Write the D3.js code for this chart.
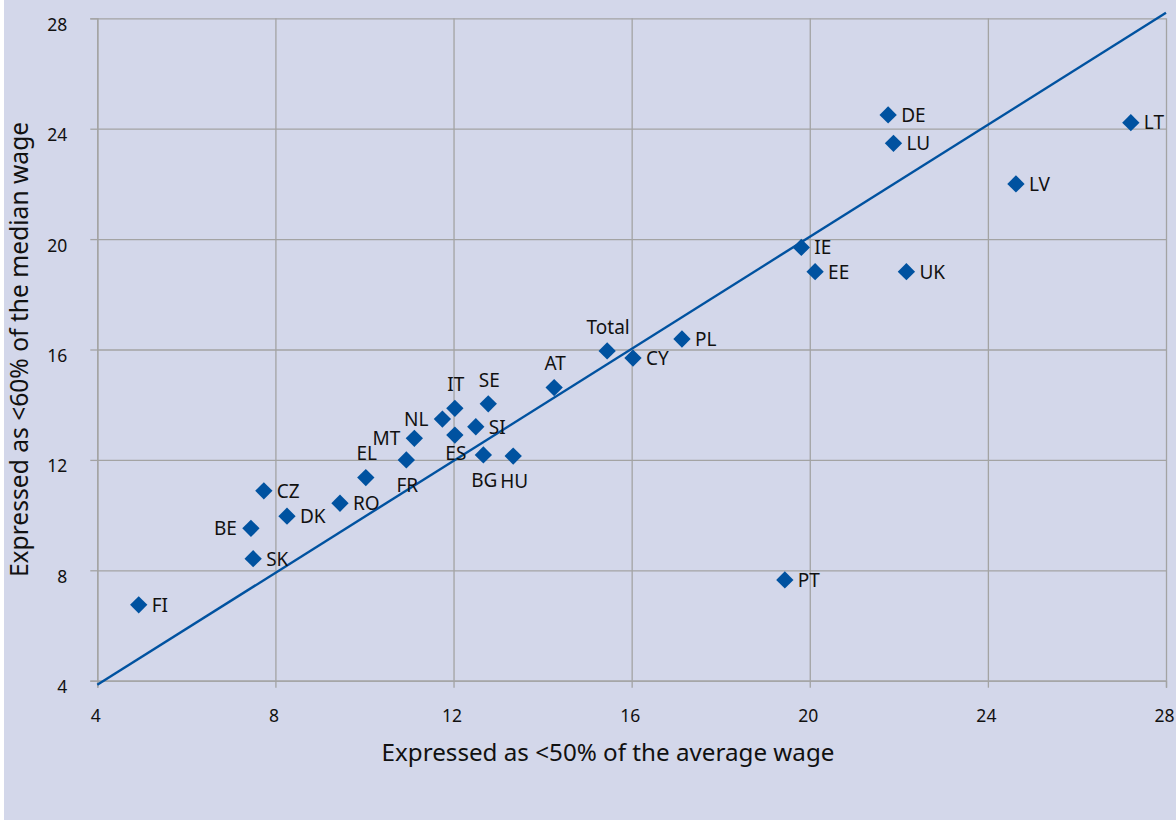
<!DOCTYPE html>
<html>
<head>
<meta charset="utf-8">
<script src="https://cdn.jsdelivr.net/npm/d3@7"></script>
<style>
  html, body { margin: 0; padding: 0; background: #ffffff; }
  svg { display: block; }
  text { font-family: "Noto Sans", "Open Sans", sans-serif; fill: #111; }
</style>
</head>
<body>
<svg id="chart" width="1176" height="820"></svg>
<script>
// ---- data ----
const countries = ["FI","SK","BE","CZ","DK","RO","EL","FR","MT","NL","IT","ES","SI","SE","BG","HU","AT","Total","CY","PL","PT","IE","EE","UK","DE","LU","LV","LT"];
const avgWage50 = [4.93,7.50,7.45,7.74,8.26,9.45,10.03,10.94,11.12,11.75,12.03,12.03,12.50,12.78,12.67,13.34,14.26,15.45,16.03,17.13,19.44,19.81,20.12,22.17,21.76,21.88,24.63,27.21];
const medWage60 = [6.75,8.42,9.52,10.88,9.96,10.43,11.36,12.00,12.78,13.48,13.87,12.90,13.20,14.03,12.18,12.14,14.62,15.95,15.69,16.38,7.65,19.70,18.82,18.82,24.50,23.47,22.00,24.22];
const trendX = [4, 28];
const trendY = [3.85, 28.2];
const xTicks = [4, 8, 12, 16, 20, 24, 28];
const yTicks = [4, 8, 12, 16, 20, 24, 28];
const xTitle = "Expressed as <50% of the average wage";
const yTitle = "Expressed as <60% of the median wage";

// label placement (style, not data)
const labelPlace = {
  BE: "left", MT: "left", NL: "left",
  EL: "above", IT: "above", SE: "above", AT: "above", Total: "above",
  FR: "below", ES: "belowNear", BG: "below", HU: "below"
};

// ---- layout ----
const svg = d3.select("#chart");
const W = 1176, H = 820;
const bg = "#d3d7ea";
const gridColor = "#a3a3a3";
const markColor = "#0052a0";

svg.append("rect").attr("x", 4).attr("y", 0).attr("width", W - 4).attr("height", H).attr("fill", bg);

const x = d3.scaleLinear().domain([4, 28]).range([97.3, 1166]);
const y = d3.scaleLinear().domain([4, 28]).range([680.7, 18.3]);

// grid lines
const gridY = svg.append("g").attr("transform", `translate(${x(4)},0)`)
  .call(d3.axisLeft(y).tickValues(yTicks).tickSize(-(x(28) - x(4))).tickFormat(""));
gridY.select(".domain").remove();
gridY.selectAll("line").attr("stroke", gridColor).attr("stroke-width", 1.3);

const gridX = svg.append("g").attr("transform", `translate(0,${y(4)})`)
  .call(d3.axisBottom(x).tickValues(xTicks).tickSize(-(y(4) - y(28))).tickFormat(""));
gridX.select(".domain").remove();
gridX.selectAll("line").attr("stroke", gridColor).attr("stroke-width", 1.3);

// axes with outward ticks and labels
const yAxis = svg.append("g").attr("transform", `translate(${x(4)},0)`)
  .call(d3.axisLeft(y).tickValues(yTicks).tickSize(7).tickPadding(23).tickFormat(d3.format("d")));
yAxis.select(".domain").attr("stroke", gridColor).attr("stroke-width", 1.3);
yAxis.selectAll("line").attr("stroke", gridColor).attr("stroke-width", 1.3);
yAxis.selectAll("text").attr("font-size", 17.5).attr("dy", "0.68em")
  .style("font-family", '"Noto Sans", sans-serif').attr("fill", "#111");

const xAxis = svg.append("g").attr("transform", `translate(0,${y(4)})`)
  .call(d3.axisBottom(x).tickValues(xTicks).tickSize(7).tickPadding(22).tickFormat(d3.format("d")));
xAxis.select(".domain").attr("stroke", gridColor).attr("stroke-width", 1.3);
xAxis.selectAll("line").attr("stroke", gridColor).attr("stroke-width", 1.3);
xAxis.selectAll("text").attr("font-size", 17.5).attr("dx", -2)
  .style("font-family", '"Noto Sans", sans-serif').attr("fill", "#111");

// trend line
const line = d3.line().x(d => x(d[0])).y(d => y(d[1]));
svg.append("path")
  .datum(d3.zip(trendX, trendY))
  .attr("d", line)
  .attr("fill", "none")
  .attr("stroke", markColor)
  .attr("stroke-width", 2.4);

// points
const pts = countries.map((c, i) => ({ c, vx: avgWage50[i], vy: medWage60[i] }));
const diamond = d3.symbol().type(d3.symbolSquare).size(150);
svg.append("g").selectAll("path")
  .data(pts).join("path")
  .attr("d", diamond)
  .attr("transform", d => `translate(${x(d.vx)},${y(d.vy)}) rotate(45)`)
  .attr("fill", markColor);

// labels
svg.append("g").selectAll("text")
  .data(pts).join("text")
  .attr("font-size", 19)
  .attr("x", d => {
    const p = labelPlace[d.c];
    if (p === "left") return x(d.vx) - 14;
    if (p === "above" || p === "below" || p === "belowNear") return x(d.vx) + 1;
    return x(d.vx) + 13;
  })
  .attr("y", d => {
    const p = labelPlace[d.c];
    if (p === "above") return y(d.vy) - 24;
    if (p === "below") return y(d.vy) + 25;
    if (p === "belowNear") return y(d.vy) + 18;
    return y(d.vy);
  })
  .attr("dy", "0.36em")
  .attr("text-anchor", d => {
    const p = labelPlace[d.c];
    if (p === "left") return "end";
    if (p === "above" || p === "below" || p === "belowNear") return "middle";
    return "start";
  })
  .text(d => d.c);

// axis titles
svg.append("text")
  .attr("x", 608).attr("y", 761)
  .attr("text-anchor", "middle")
  .attr("font-size", 24.2)
  .text(xTitle);

svg.append("text")
  .attr("transform", `translate(28,${(y(4) + y(28)) / 2}) rotate(-90)`)
  .attr("text-anchor", "middle")
  .attr("font-size", 24.6)
  .text(yTitle);
</script>
</body>
</html>
